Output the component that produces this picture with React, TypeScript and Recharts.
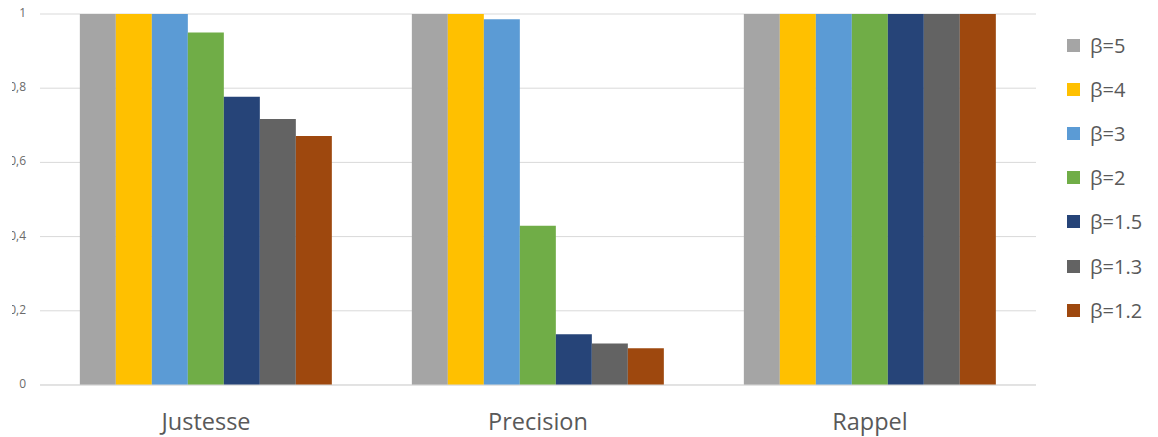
import { BarChart, Bar, XAxis, YAxis, CartesianGrid, Legend } from 'recharts';

const categories = ['Justesse', 'Precision', 'Rappel'];
const seriesNames = ['β=5', 'β=4', 'β=3', 'β=2', 'β=1.5', 'β=1.3', 'β=1.2'];
const seriesColors = ['#A5A5A5', '#FFC000', '#5B9BD5', '#70AD47', '#264478', '#636363', '#9E480E'];

// values per series, in category order
const beta5 = [1, 1, 1];
const beta4 = [1, 1, 1];
const beta3 = [1, 0.986, 1];
const beta2 = [0.95, 0.429, 1];
const beta15 = [0.777, 0.137, 1];
const beta13 = [0.717, 0.112, 1];
const beta12 = [0.671, 0.099, 1];

const yTicks = [0, 0.2, 0.4, 0.6, 0.8, 1];

const seriesValues = [beta5, beta4, beta3, beta2, beta15, beta13, beta12];

const data = categories.map((name, i) => {
  const row: Record<string, string | number> = { name };
  seriesNames.forEach((s, j) => {
    row[s] = seriesValues[j][i];
  });
  return row;
});

const fmt = (v: number) => (v === 0 || v === 1 ? String(v) : v.toFixed(1).replace('.', ','));

const YTick = (props: any) => {
  const { y, payload } = props;
  return (
    <text
      x={26}
      y={y + 3}
      textAnchor="end"
      fontSize={12}
      fill="#6b6b6b"
      fontFamily="'Open Sans', sans-serif"
      clipPath="url(#yclip)"
    >
      {fmt(payload.value)}
    </text>
  );
};

const XTick = (props: any) => {
  const { x, payload } = props;
  return (
    <text x={x} y={430} textAnchor="middle" fontSize={23.5} fill="#595959" fontFamily="'Open Sans', sans-serif">
      {payload.value}
    </text>
  );
};

const LegendBox = () => (
  <div style={{ fontFamily: "'Open Sans', sans-serif" }}>
    {seriesNames.map((s, i) => (
      <div key={s} style={{ display: 'flex', alignItems: 'center', height: 44.2 }}>
        <span style={{ width: 13, height: 13, background: seriesColors[i], display: 'inline-block', marginRight: 10 }} />
        <span style={{ fontSize: 20, color: '#595959' }}>{s}</span>
      </div>
    ))}
  </div>
);

export default function App() {
  return (
    <div style={{ position: 'absolute', left: 0, top: 0, background: '#fff' }}>
      <BarChart
        width={1158}
        height={437}
        data={data}
        margin={{ top: 14, right: 31, bottom: 0, left: 0 }}
        barCategoryGap="12%"
        barGap={0}
      >
        <defs>
          <clipPath id="yclip">
            <rect x={12} y={0} width={40} height={437} />
          </clipPath>
        </defs>
        <CartesianGrid vertical={false} stroke="#d9d9d9" />
        <XAxis dataKey="name" height={52} tickLine={false} axisLine={{ stroke: '#d9d9d9' }} tick={<XTick />} />
        <YAxis
          width={40}
          domain={[0, 1]}
          ticks={yTicks}
          axisLine={false}
          tickLine={false}
          tick={<YTick />}
          interval={0}
        />
        <Legend
          layout="vertical"
          align="right"
          verticalAlign="top"
          content={<LegendBox />}
          wrapperStyle={{ position: 'absolute', left: 1067, top: 23, width: 91 }}
        />
        {seriesNames.map((s, i) => (
          <Bar key={s} dataKey={s} fill={seriesColors[i]} isAnimationActive={false} />
        ))}
      </BarChart>
    </div>
  );
}
